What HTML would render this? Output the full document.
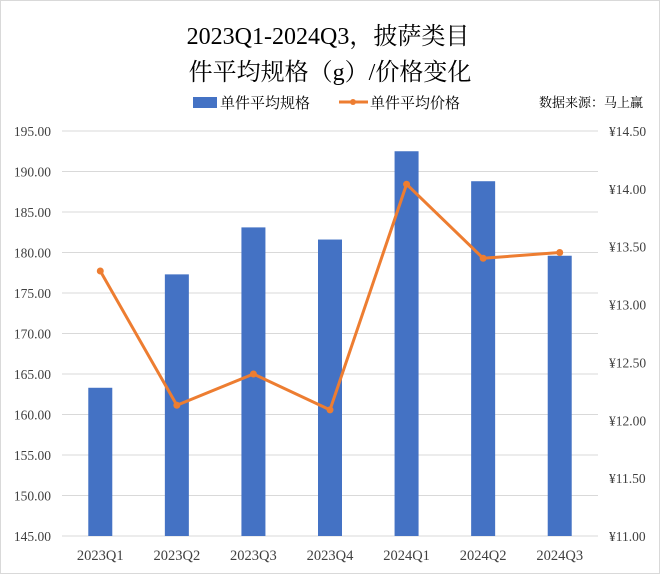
<!DOCTYPE html>
<html><head><meta charset="utf-8"><style>
html,body{margin:0;padding:0;background:#fff}
svg{display:block;font-family:"Liberation Serif","Noto Serif CJK SC",serif}
</style></head><body>
<svg width="660" height="574" viewBox="0 0 660 574" xmlns="http://www.w3.org/2000/svg">
<rect x="0.5" y="0.5" width="659" height="573" fill="#fff" stroke="#d9d9d9"/>
<text x="328" y="44" text-anchor="middle" font-size="24" fill="#000">2023Q1-2024Q3，披萨类目</text>
<text x="330" y="80" text-anchor="middle" font-size="24" fill="#000">件平均规格（g）/价格变化</text>
<g>
<rect x="193" y="97" width="24" height="11" fill="#4472c4"/>
<text x="220" y="108" font-size="15">单件平均规格</text>
<line x1="339" y1="102" x2="368" y2="102" stroke="#ed7d31" stroke-width="3"/>
<circle cx="353" cy="102" r="3" fill="#ed7d31"/>
<text x="370" y="108" font-size="15">单件平均价格</text>
<text x="643" y="107" text-anchor="end" font-size="13">数据来源：马上赢</text>
</g>
<g id="grid"></g><g id="bars"></g><g id="line"></g><g id="axes"></g>
</svg>
<script>
const categories=["2023Q1","2023Q2","2023Q3","2023Q4","2024Q1","2024Q2","2024Q3"];
const sizes=[163.3,177.3,183.1,181.6,192.5,188.8,179.6];
const prices=[13.29,12.13,12.40,12.09,14.04,13.40,13.45];
const leftTicks=[145,150,155,160,165,170,175,180,185,190,195];
const rightTicks=[11,11.5,12,12.5,13,13.5,14,14.5];
const NS="http://www.w3.org/2000/svg";
const X0=62,X1=598,Y0=536,Y1=131;
const yL=v=>Y0-(v-145)/(195-145)*(Y0-Y1);
const yR=v=>Y0-(v-11)/(14.5-11)*(Y0-Y1);
const step=(X1-X0)/categories.length;
const xC=i=>X0+step*(i+0.5);
function mk(t,a,p,txt){const e=document.createElementNS(NS,t);for(const k in a)e.setAttribute(k,a[k]);if(txt!=null)e.textContent=txt;p.appendChild(e);return e;}
const grid=document.getElementById('grid'),axes=document.getElementById('axes'),bars=document.getElementById('bars'),line=document.getElementById('line');
leftTicks.forEach(v=>{
 const g=mk('line',{x1:X0,x2:X1,y1:yL(v),y2:yL(v),stroke:'#d9d9d9','stroke-width':1},grid);
 
 
 const t=mk('text',{x:51,y:yL(v)+5,'text-anchor':'end','font-size':13.5,fill:'#404040'},axes,v.toFixed(2));
 
 
});
rightTicks.forEach(v=>{
 const t=mk('text',{x:609,y:yR(v)+5,'font-size':13.5,fill:'#404040'},axes,'¥'+v.toFixed(2));
 
 
});
categories.forEach((c,i)=>{
 const t=mk('text',{x:xC(i),y:560,'text-anchor':'middle','font-size':14.5,fill:'#404040'},axes,c);
 
 
 const b=mk('rect',{x:xC(i)-12,y:yL(sizes[i]),width:24,height:Y0-yL(sizes[i]),fill:'#4472c4'},bars);
 
 
});
const pl=mk('polyline',{points:prices.map((p,i)=>xC(i)+','+yR(p)).join(' '),fill:'none',stroke:'#ed7d31','stroke-width':3,'stroke-linejoin':'round'},line);


prices.forEach((p,i)=>{
 const c=mk('circle',{cx:xC(i),cy:yR(p),r:3.5,fill:'#ed7d31'},line);
 
 
});
</script>
</body></html>
